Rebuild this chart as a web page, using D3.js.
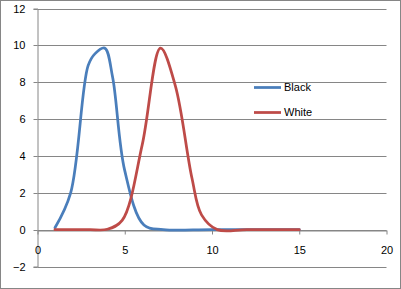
<!DOCTYPE html>
<html>
<head>
<meta charset="utf-8">
<script src="https://cdn.jsdelivr.net/npm/d3@7"></script>
<style>
  body { margin: 0; background: #fff; }
  svg { display: block; font-family: "Liberation Sans", Arial, sans-serif; }
</style>
</head>
<body>
<div id="chart-container"></div>
<script>
// data
const blackX = [1, 1.9, 2.9, 3.3, 3.85, 4.3, 5, 6.1, 7.2, 10, 15];
const blackY = [0.1, 2.0, 8.9, 9.55, 9.85, 8.3, 3.2, 0.25, 0, 0, 0];
const whiteX = [1, 2, 3, 4, 4.85, 6, 7.05, 7.9, 8.85, 9.4, 10.3, 12, 15];
const whiteY = [0, 0, 0, 0.02, 0.5, 4.6, 9.85, 7.8, 2.8, 0.8, 0, 0, 0];
const xTicks = [0, 5, 10, 15, 20];
const yTicks = [-2, 0, 2, 4, 6, 8, 10, 12];
const seriesNames = ["Black", "White"];
const colors = ["#4A7EBB", "#BE4B48"];

const W = 401, H = 289;

const svg = d3.select("#chart-container")
  .append("svg")
  .attr("width", W)
  .attr("height", H);

// outer chart border
svg.append("rect")
  .attr("x", 0.5).attr("y", 0.5)
  .attr("width", W - 1).attr("height", H - 1)
  .attr("fill", "#fff")
  .attr("stroke", "#868686");

const xScale = d3.scaleLinear().domain([0, 20]).range([37.5, 386.5]);
const yScale = d3.scaleLinear().domain([-2, 12]).range([266.5, 8.5]);

// horizontal gridlines
svg.selectAll(".yGrid")
  .data(yTicks)
  .join("line")
  .attr("class", "yGrid")
  .attr("x1", xScale(0))
  .attr("x2", xScale(20))
  .attr("y1", d => Math.round(yScale(d)) + 0.5)
  .attr("y2", d => Math.round(yScale(d)) + 0.5)
  .attr("stroke", "#868686");

// y axis
svg.append("g")
  .attr("transform", `translate(${xScale(0)},0)`)
  .call(d3.axisLeft(yScale).tickValues(yTicks).tickSize(4).tickPadding(8)
    .tickFormat(d3.format("d")))
  .call(g => g.selectAll(".tick").attr("transform", d => `translate(0,${Math.round(yScale(d)) + 0.5})`))
  .call(g => g.selectAll("path, line").attr("stroke", "#868686"))
  .call(g => g.selectAll("text").attr("fill", "#000").style("font-size", "11px")
    .style("font-family", "Liberation Sans, Arial, sans-serif"));

// x axis sits on y = 0
svg.append("g")
  .attr("transform", `translate(0,${Math.round(yScale(0)) + 0.5})`)
  .call(d3.axisBottom(xScale).tickValues(xTicks).tickSize(4).tickSizeOuter(0).tickPadding(12))
  .call(g => g.select(".domain").attr("stroke", "#868686"))
  .call(g => g.selectAll(".tick line").attr("stroke", "#868686"))
  .call(g => g.selectAll("text").attr("fill", "#000").style("font-size", "11px")
    .style("font-family", "Liberation Sans, Arial, sans-serif"));

// smoothed lines
const series = [
  d3.zip(blackX, blackY),
  d3.zip(whiteX, whiteY)
];

const line = d3.line()
  .x(d => xScale(d[0]))
  .y(d => yScale(d[1]))
  .curve(d3.curveCatmullRom.alpha(0.5));

svg.selectAll(".series")
  .data(series)
  .join("path")
  .attr("class", "series")
  .attr("d", line)
  .attr("fill", "none")
  .attr("stroke", (d, i) => colors[i])
  .attr("stroke-width", 2.75)
  .attr("stroke-linejoin", "round")
  .attr("stroke-linecap", "round");

// legend
const legend = svg.selectAll(".legend")
  .data(seriesNames)
  .join("g")
  .attr("class", "legend")
  .attr("transform", (d, i) => `translate(254,${87.5 + i * 25})`);

legend.append("line")
  .attr("x1", 0).attr("x2", 27)
  .attr("stroke", (d, i) => colors[i])
  .attr("stroke-width", 2.75);

legend.append("text")
  .attr("x", 30)
  .attr("dy", "0.35em")
  .style("font-size", "11px")
  .attr("fill", "#000")
  .text(d => d);
</script>
</body>
</html>
